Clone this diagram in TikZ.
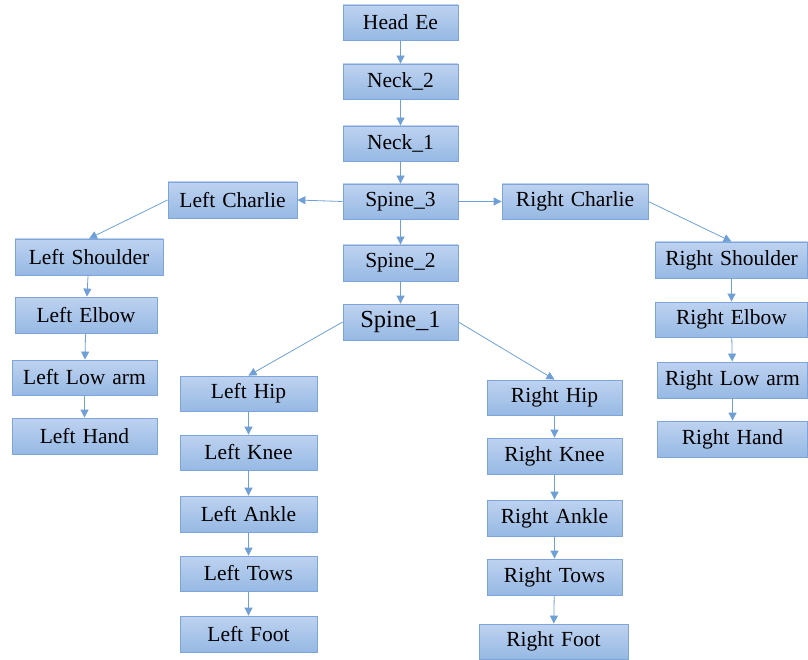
\documentclass[tikz,border=0pt]{standalone}
\usepackage{fontspec}
\setmainfont{Liberation Serif}
\usetikzlibrary{arrows.meta}
\definecolor{boxtop}{RGB}{190,210,240}
\definecolor{boxbot}{RGB}{150,185,228}
\definecolor{boxline}{RGB}{125,165,215}
\definecolor{edgecol}{RGB}{110,160,215}
\newcommand\partfont{\fontsize{21.5}{25}\selectfont\spaceskip=7pt\relax}
\newcommand\bigpartfont{\fontsize{24.5}{28}\selectfont\relax}
\tikzset{
  part/.style={draw=boxline, line width=0.8pt, top color=boxtop, bottom color=boxbot,
    inner sep=0pt, font=\partfont},
  link/.style={draw=edgecol, line width=0.8pt, -{Triangle[length=8pt,width=8pt]}}
}
\begin{document}
\begin{tikzpicture}[x=1pt,y=-1pt]
\useasboundingbox (0,0) rectangle (808,660);
% spine
\node[part, minimum width=115pt, minimum height=35pt] (head) at (400.5,22.5) {Head Ee};
\node[part, minimum width=115pt, minimum height=35pt] (neck2) at (400.5,81.5) {Neck\_2};
\node[part, minimum width=115pt, minimum height=35pt] (neck1) at (400.5,143.5) {Neck\_1};
\node[part, minimum width=115pt, minimum height=35pt] (spine3) at (400.5,201.5) {Spine\_3};
\node[part, minimum width=115pt, minimum height=36pt] (spine2) at (400.5,263) {Spine\_2};
\node[part, minimum width=115pt, minimum height=36pt, font=\bigpartfont] (spine1) at (400.5,322) {Spine\_1};
% charlies
\node[part, minimum width=129pt, minimum height=36pt] (lch) at (232.5,200) {Left Charlie};
\node[part, minimum width=146pt, minimum height=35pt] (rch) at (575,201.5) {Right Charlie};
% left arm
\node[part, minimum width=148pt, minimum height=36pt] (lsh) at (89,257) {Left Shoulder};
\node[part, minimum width=142pt, minimum height=36pt] (lel) at (86,315) {Left Elbow};
\node[part, minimum width=145pt, minimum height=35pt] (lla) at (84.5,377.5) {Left Low arm};
\node[part, minimum width=145pt, minimum height=36pt] (lha) at (84.5,436) {Left Hand};
% right arm
\node[part, minimum width=152pt, minimum height=36pt] (rsh) at (731.5,260) {Right Shoulder};
\node[part, minimum width=152pt, minimum height=35pt] (rel) at (731.5,319.5) {Right Elbow};
\node[part, minimum width=150pt, minimum height=36pt] (rla) at (732.5,380) {Right Low arm};
\node[part, minimum width=150pt, minimum height=36pt] (rha) at (732.5,439) {Right Hand};
% left leg
\node[part, minimum width=137pt, minimum height=35pt] (lhi) at (248.5,393.5) {Left Hip};
\node[part, minimum width=137pt, minimum height=35pt] (lkn) at (248.5,452.5) {Left Knee};
\node[part, minimum width=137pt, minimum height=36pt] (lan) at (248.5,514) {Left Ankle};
\node[part, minimum width=137pt, minimum height=35pt] (lto) at (248.5,573.5) {Left Tows};
\node[part, minimum width=137pt, minimum height=36pt] (lft) at (248.5,634) {Left Foot};
% right leg
\node[part, minimum width=135pt, minimum height=35pt] (rhi) at (554.5,397.5) {Right Hip};
\node[part, minimum width=135pt, minimum height=36pt] (rkn) at (554.5,456) {Right Knee};
\node[part, minimum width=135pt, minimum height=36pt] (ran) at (554.5,518) {Right Ankle};
\node[part, minimum width=135pt, minimum height=36pt] (rto) at (554.5,577) {Right Tows};
\node[part, minimum width=149pt, minimum height=35pt] (rft) at (553.5,641.5) {Right Foot};
% links
\draw[link] (head) -- (neck2);
\draw[link] (neck2) -- (neck1);
\draw[link] (neck1) -- (spine3);
\draw[link] (spine3) -- (spine2);
\draw[link] (spine2) -- (spine1);
\draw[link] (spine3.west) -- (lch.east);
\draw[link] (spine3.east) -- (rch.west);
\draw[link] (lch.west) -- (lsh.north);
\draw[link] (rch.east) -- (rsh.north);
\draw[link] (lsh) -- (lel);
\draw[link] (lel) -- (lla);
\draw[link] (lla) -- (lha);
\draw[link] (rsh) -- (rel);
\draw[link] (rel) -- (rla);
\draw[link] (rla) -- (rha);
\draw[link] (spine1.west) -- (lhi.north);
\draw[link] (spine1.east) -- (rhi.north);
\draw[link] (lhi) -- (lkn);
\draw[link] (lkn) -- (lan);
\draw[link] (lan) -- (lto);
\draw[link] (lto) -- (lft);
\draw[link] (rhi) -- (rkn);
\draw[link] (rkn) -- (ran);
\draw[link] (ran) -- (rto);
\draw[link] (rto) -- (rft);
\end{tikzpicture}
\end{document}
